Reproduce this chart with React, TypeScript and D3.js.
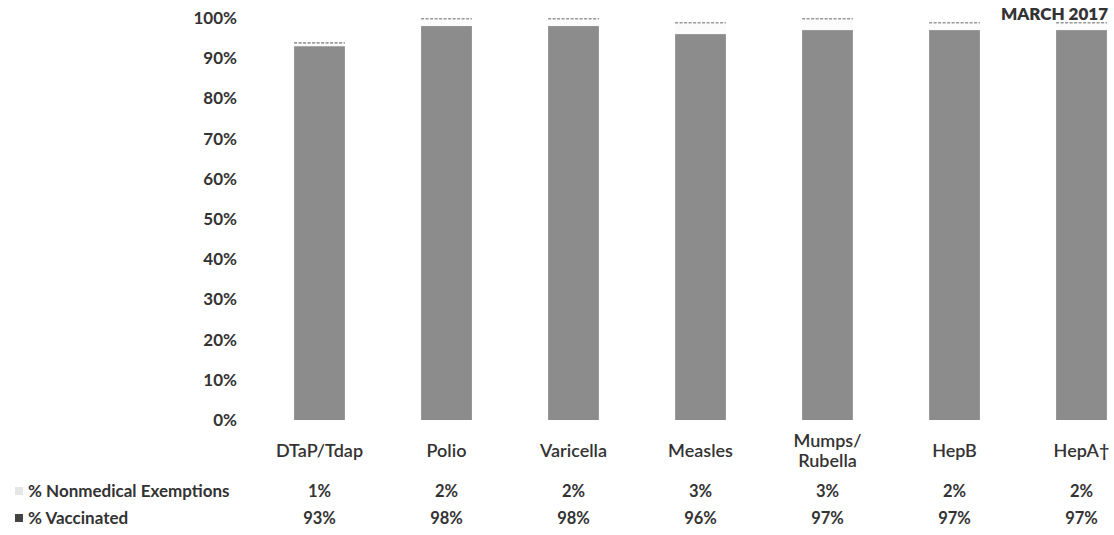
import * as d3 from 'd3';

const categories = ['DTaP/Tdap', 'Polio', 'Varicella', 'Measles', 'Mumps/\nRubella', 'HepB', 'HepA\u2020'];
const vaccinated = [93, 98, 98, 96, 97, 97, 97];
const exemptions = [1, 2, 2, 3, 3, 2, 2];
const yTicks = [0, 10, 20, 30, 40, 50, 60, 70, 80, 90, 100];
const seriesLabels = ['% Nonmedical Exemptions', '% Vaccinated'];

const W = 1114;
const H = 535;
const FONT = 'Lato, "Open Sans", sans-serif';
const VAX_COLOR = '#8c8c8c';
const EXEMPT_COLOR = '#fbfbfb';
const TEXT = '#333';

export default function App() {
  const x = d3.scaleBand<string>().domain(categories).range([256, 1145]).paddingInner(0.6).paddingOuter(0.3);
  const y = d3.scaleLinear().domain([0, 100]).range([420, 18]);
  const bw = x.bandwidth();
  const rows = [exemptions, vaccinated];
  const rowY = [491, 518];

  return (
    <div style={{ position: 'fixed', left: 0, top: 0, width: W, height: H, background: '#fff' }}>
      <svg width={W} height={H} style={{ display: 'block' }} fontFamily={FONT}>
        {/* y axis labels */}
        {yTicks.map(t => (
          <text key={t} x={237} y={y(t)} dy="0.35em" textAnchor="end" fontSize={17} fontWeight={700} fill={TEXT}>
            {t}%
          </text>
        ))}

        {/* stacked bars */}
        {categories.map((c, i) => {
          const top = y(vaccinated[i] + exemptions[i]);
          return (
            <g key={c}>
              <rect x={x(c)} y={y(vaccinated[i])} width={bw} height={y(0) - y(vaccinated[i])} fill={VAX_COLOR} />
              <rect x={x(c)} y={top} width={bw} height={y(vaccinated[i]) - top} fill={EXEMPT_COLOR} />
              <line x1={x(c)} x2={(x(c) as number) + bw} y1={top + 0.8} y2={top + 0.8}
                stroke="#9a9a9a" strokeWidth={1.6} strokeDasharray="3,1.5" />
            </g>
          );
        })}

        {/* category labels */}
        {categories.map(c => {
          const lines = c.split('\n');
          const cx = (x(c) as number) + bw / 2;
          const y0 = lines.length > 1 ? 441 : 451;
          return (
            <text key={c} x={cx} textAnchor="middle" fontSize={18} fontWeight={600} fill={TEXT}>
              {lines.map((l, j) => (
                <tspan key={j} x={cx} y={y0 + j * 20} dy="0.35em">{l}</tspan>
              ))}
            </text>
          );
        })}

        {/* data table */}
        {rows.map((vals, r) => (
          <g key={r}>
            <rect x={15} y={rowY[r] - 4} width={8} height={8} fill={r === 0 ? '#e6e6e6' : '#444'} />
            <text x={28} y={rowY[r]} dy="0.35em" fontSize={17} fontWeight={700} fill={TEXT}>
              {seriesLabels[r]}
            </text>
            {categories.map((c, i) => (
              <text key={c} x={(x(c) as number) + bw / 2} y={rowY[r]} dy="0.35em" textAnchor="middle" fontSize={16.5} fontWeight={700} fill={TEXT}>
                {vals[i]}%
              </text>
            ))}
          </g>
        ))}

        <text x={1108} y={14} dy="0.35em" textAnchor="end" fontSize={17} fontWeight={800} fill={TEXT}>
          MARCH 2017
        </text>
      </svg>
    </div>
  );
}
